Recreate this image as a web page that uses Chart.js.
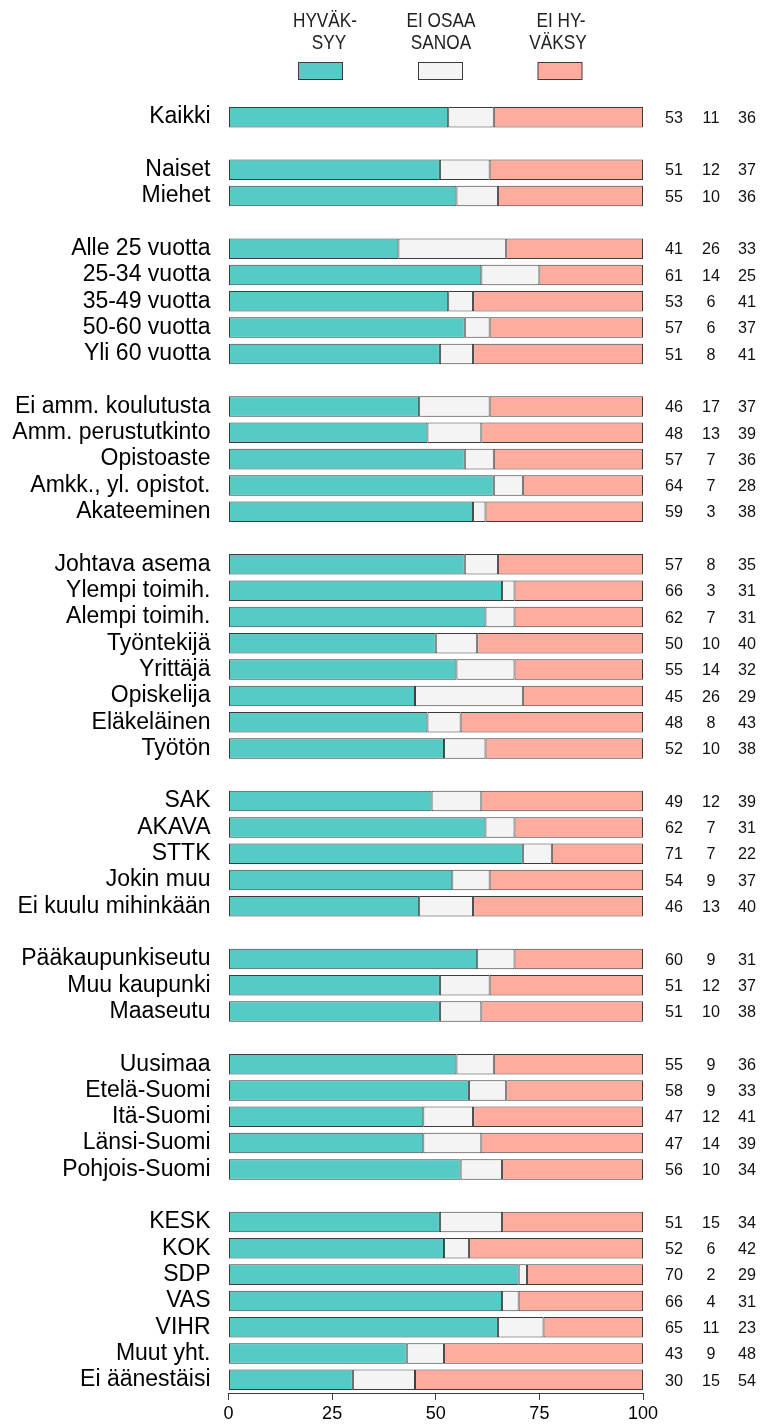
<!DOCTYPE html>
<html>
<head>
<meta charset="utf-8">
<script src="https://cdn.jsdelivr.net/npm/chart.js@4.4.1/dist/chart.umd.min.js"></script>
<style>
  html, body { margin: 0; padding: 0; background: #fff; }
  canvas { display: block; }
</style>
</head>
<body>
<canvas id="kuvio" width="763" height="1424"></canvas>
<script>
// ryhmät, tyhjä rivi = väli ryhmien välissä
var ryhmat = ['Kaikki', '',
  'Naiset', 'Miehet', '',
  'Alle 25 vuotta', '25-34 vuotta', '35-49 vuotta', '50-60 vuotta', 'Yli 60 vuotta', '',
  'Ei amm. koulutusta', 'Amm. perustutkinto', 'Opistoaste', 'Amkk., yl. opistot.', 'Akateeminen', '',
  'Johtava asema', 'Ylempi toimih.', 'Alempi toimih.', 'Työntekijä', 'Yrittäjä', 'Opiskelija', 'Eläkeläinen', 'Työtön', '',
  'SAK', 'AKAVA', 'STTK', 'Jokin muu', 'Ei kuulu mihinkään', '',
  'Pääkaupunkiseutu', 'Muu kaupunki', 'Maaseutu', '',
  'Uusimaa', 'Etelä-Suomi', 'Itä-Suomi', 'Länsi-Suomi', 'Pohjois-Suomi', '',
  'KESK', 'KOK', 'SDP', 'VAS', 'VIHR', 'Muut yht.', 'Ei äänestäisi'];

var hyvaksyy = [53, null, 51, 55, null, 41, 61, 53, 57, 51, null, 46, 48, 57, 64, 59, null,
  57, 66, 62, 50, 55, 45, 48, 52, null, 49, 62, 71, 54, 46, null, 60, 51, 51, null,
  55, 58, 47, 47, 56, null, 51, 52, 70, 66, 65, 43, 30];
var eiOsaa = [11, null, 12, 10, null, 26, 14, 6, 6, 8, null, 17, 13, 7, 7, 3, null,
  8, 3, 7, 10, 14, 26, 8, 10, null, 12, 7, 7, 9, 13, null, 9, 12, 10, null,
  9, 9, 12, 14, 10, null, 15, 6, 2, 4, 11, 9, 15];
var eiHyvaksy = [36, null, 37, 36, null, 33, 25, 41, 37, 41, null, 37, 39, 36, 28, 38, null,
  35, 31, 31, 40, 32, 29, 43, 38, null, 39, 31, 22, 37, 40, null, 31, 37, 38, null,
  36, 33, 41, 39, 34, null, 34, 42, 29, 31, 23, 48, 54];

var xTicks = [0, 25, 50, 75, 100];
var selitteet = [['HYVÄK-', 'SYY'], ['EI OSAA', 'SANOA'], ['EI HY-', 'VÄKSY']];
var varit = ['#56CBC6', '#F4F4F4', '#FFAB9E'];
var reuna = '#3c3c3c';

// palkit alkupiste-loppupiste pareina, viimeinen täyttää sataan asti
var pal1 = hyvaksyy.map(function (v) { return v == null ? null : [0, v]; });
var pal2 = hyvaksyy.map(function (v, i) { return v == null ? null : [v, v + eiOsaa[i]]; });
var pal3 = hyvaksyy.map(function (v, i) { return v == null ? null : [v + eiOsaa[i], 100]; });

// kapeampi teksti: piirretään vaakasuunnassa puristettuna
function kapeaTeksti(ctx, teksti, x, y, sx) {
  ctx.save();
  ctx.translate(x, y);
  ctx.scale(sx, 1);
  ctx.fillText(teksti, 0, 0);
  ctx.restore();
}

// luvut oikealle
var lukuPlugin = {
  id: 'luvut',
  afterDatasetsDraw: function (chart) {
    var ctx = chart.ctx, ys = chart.scales.y;
    var sarakkeet = [674, 711, 747];
    ctx.save();
    ctx.font = '17px "Liberation Sans", Arial, sans-serif';
    ctx.fillStyle = '#111';
    ctx.textAlign = 'center';
    ctx.textBaseline = 'middle';
    for (var i = 0; i < ryhmat.length; i++) {
      if (hyvaksyy[i] == null) continue;
      var y = ys.getPixelForValue(i) + 1;
      kapeaTeksti(ctx, String(hyvaksyy[i]), sarakkeet[0], y, 0.95);
      kapeaTeksti(ctx, String(eiOsaa[i]), sarakkeet[1], y, 0.95);
      kapeaTeksti(ctx, String(eiHyvaksy[i]), sarakkeet[2], y, 0.95);
    }
    ctx.restore();
  }
};

// selite ylös: teksti laatikon yläpuolella
var selitePlugin = {
  id: 'selite',
  afterDraw: function (chart) {
    var ctx = chart.ctx;
    var laatikot = [320.5, 440.5, 560];
    var rivit = [[325, 329], [441, 441], [561, 558]];
    ctx.save();
    ctx.font = '21px "Liberation Sans", Arial, sans-serif';
    ctx.textAlign = 'center';
    ctx.textBaseline = 'middle';
    for (var k = 0; k < 3; k++) {
      var x = laatikot[k];
      ctx.fillStyle = '#222';
      kapeaTeksti(ctx, selitteet[k][0], rivit[k][0], 21, 0.82);
      kapeaTeksti(ctx, selitteet[k][1], rivit[k][1], 43, 0.82);
      ctx.fillStyle = varit[k];
      ctx.fillRect(x - 22, 62.5, 44, 17);
      ctx.strokeStyle = reuna;
      ctx.lineWidth = 1;
      ctx.strokeRect(x - 22, 62.5, 44, 17);
    }
    ctx.restore();
  }
};

function sarja(nimi, data, vari) {
  return {
    label: nimi,
    data: data,
    backgroundColor: vari,
    borderColor: reuna,
    borderWidth: 1,
    borderSkipped: false,
    grouped: false,
    barPercentage: 0.78,
    categoryPercentage: 1
  };
}

var kuvio = new Chart(document.getElementById('kuvio').getContext('2d'), {
  type: 'bar',
  data: {
    labels: ryhmat,
    datasets: [
      sarja('Hyväksyy', pal1, varit[0]),
      sarja('Ei osaa sanoa', pal2, varit[1]),
      sarja('Ei hyväksy', pal3, varit[2])
    ]
  },
  options: {
    indexAxis: 'y',
    responsive: false,
    animation: false,
    devicePixelRatio: 1,
    layout: { padding: { top: 104, right: 120, left: 0, bottom: 0 } },
    plugins: { legend: { display: false }, tooltip: { enabled: false } },
    scales: {
      y: {
        type: 'category',
        grid: { display: false },
        border: { display: false },
        ticks: {
          autoSkip: false,
          padding: 10,
          color: '#000',
          font: { family: '"Liberation Sans", Arial, sans-serif', size: 23 }
        },
        afterFit: function (s) { s.width = 228.5; }
      },
      x: {
        min: 0,
        max: 100,
        afterBuildTicks: function (s) { s.ticks = xTicks.map(function (v) { return { value: v }; }); },
        grid: { drawOnChartArea: false, drawTicks: true, tickLength: 7, color: reuna },
        border: { display: true, color: reuna, width: 1 },
        ticks: {
          padding: 3,
          color: '#000',
          maxRotation: 0,
          font: { family: '"Liberation Sans", Arial, sans-serif', size: 18 }
        },
        afterFit: function (s) { s.height = 31; }
      }
    }
  },
  plugins: [lukuPlugin, selitePlugin]
});
</script>
</body>
</html>
